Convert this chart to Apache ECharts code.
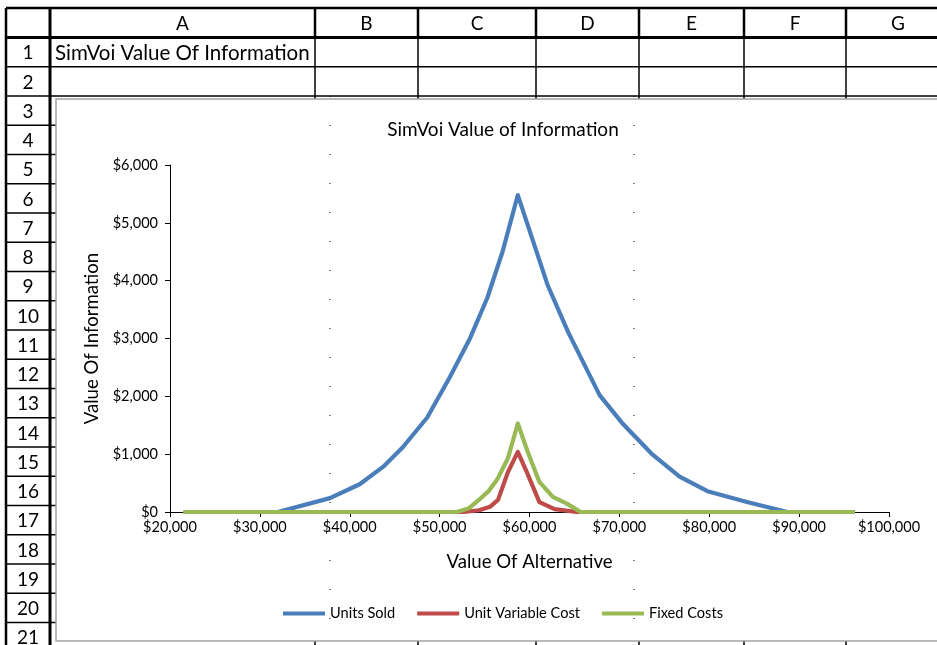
<!DOCTYPE html>
<html>
<head>
<meta charset="utf-8">
<script src="https://cdn.jsdelivr.net/npm/echarts@6/dist/echarts.min.js"></script>
<style>
  html, body { margin: 0; padding: 0; background: #ffffff; }
  #main { width: 937px; height: 645px; }
</style>
</head>
<body>
<div id="main"></div>
<script>
// Worksheet headings and the cell text
const columnLetters = ['A', 'B', 'C', 'D', 'E', 'F', 'G'];
const rowNumbers = ['1','2','3','4','5','6','7','8','9','10','11','12','13','14','15','16','17','18','19','20','21'];
const cellA1Text = 'SimVoi Value Of Information';

// Chart texts
const chartTitle = 'SimVoi Value of Information';
const xAxisTitle = 'Value Of Alternative';
const yAxisTitle = 'Value Of Information';
const seriesNames = ['Units Sold', 'Unit Variable Cost', 'Fixed Costs'];

// Axis ranges
const xMin = 20000, xMax = 100000, xStep = 10000;
const yMin = 0, yMax = 6000, yStep = 1000;

// Units Sold: value of alternative vs value of information
const unitsSoldX = [21700, 32000, 37800, 41100, 43700, 45900, 48600, 51100, 53400, 55300, 57000, 58700,
                    62000, 64300, 67800, 70300, 73700, 76700, 79800, 84300, 88700, 96000];
const unitsSoldY = [0, 0, 240, 480, 780, 1120, 1630, 2320, 3010, 3700, 4500, 5480,
                    3930, 3110, 2020, 1540, 990, 610, 360, 170, 0, 0];

// Unit Variable Cost
const unitCostX = [21700, 52600, 54400, 55600, 56500, 57600, 58700, 59700, 61100, 62800, 65300, 96000];
const unitCostY = [0, 0, 30, 90, 210, 690, 1040, 690, 170, 50, 0, 0];

// Fixed Costs
const fixedCostX = [21700, 51900, 53200, 54300, 55500, 56400, 57600, 58700, 59800, 61100, 62600, 64200, 65700, 96000];
const fixedCostY = [0, 0, 60, 200, 370, 560, 930, 1530, 1040, 520, 260, 140, 0, 0];

const FONT = 'Lato, "Noto Sans", sans-serif';

function toPairs(xs, ys) { return xs.map((x, i) => [x, ys[i]]); }
function money(v) { return '$' + String(Math.round(v)).replace(/\B(?=(\d{3})+(?!\d))/g, ','); }

// ---- worksheet grid drawn behind the embedded chart ----
const colEdges = [50, 315, 418, 536, 639, 744, 846, 950];
const headerTop = 8, headerBottom = 37.5, rowH = 29.25;
const sheet = [];

function hLine(y, x1, x2, w, z) {
  sheet.push({ type: 'line', silent: true, z: z, shape: { x1: x1, y1: y, x2: x2, y2: y },
               style: { stroke: '#000', lineWidth: w } });
}
function vLine(x, y1, y2, w, z) {
  sheet.push({ type: 'line', silent: true, z: z, shape: { x1: x, y1: y1, x2: x, y2: y2 },
               style: { stroke: '#000', lineWidth: w } });
}

// row separators
rowNumbers.forEach((r, i) => {
  const y = headerBottom + rowH * (i + 1);
  hLine(y, 6, 950, 1.5, -20);
});
// column separators
colEdges.slice(1, -1).forEach(x => {
  vLine(x, headerTop, 37, 2.5, -20);
  vLine(x, 37, 650, 1.5, -20);
});
// frame of the headings
hLine(headerTop, 6, 950, 2.5, -19);
hLine(headerBottom, 6, 950, 3, -19);
vLine(6, headerTop, 650, 2.5, -19);
vLine(50, headerTop, 650, 3, -19);

// column letters
columnLetters.forEach((c, i) => {
  sheet.push({ type: 'text', silent: true, z: -18,
    style: { text: c, x: (colEdges[i] + colEdges[i + 1]) / 2, y: (headerTop + headerBottom) / 2 + 1,
             align: 'center', verticalAlign: 'middle', font: '19px ' + FONT, fill: '#000' } });
});
// row numbers
rowNumbers.forEach((r, i) => {
  sheet.push({ type: 'text', silent: true, z: -18,
    style: { text: r, x: 28, y: headerBottom + rowH * i + rowH / 2 + 1,
             align: 'center', verticalAlign: 'middle', font: '19px ' + FONT, fill: '#000' } });
});
// A1 text
sheet.push({ type: 'text', silent: true, z: -18,
  style: { text: cellA1Text, x: 55, y: headerBottom + rowH / 2 + 1,
           align: 'left', verticalAlign: 'middle', font: '20.5px ' + FONT, fill: '#000' } });

// embedded chart area
sheet.push({ type: 'rect', silent: true, z: -5,
  shape: { x: 56, y: 99, width: 920, height: 542 },
  style: { fill: '#ffffff', stroke: '#a3a3a3', lineWidth: 1.5 } });

// page-break dots on top of everything
[330, 634].forEach(x => {
  for (let k = -4; k <= 14; k++) {
    sheet.push({ type: 'rect', silent: true, z: 100,
      shape: { x: x - 0.5, y: 212 + 29 * k, width: 1, height: 1 },
      style: { fill: '#000' } });
  }
});

const chart = echarts.init(document.getElementById('main'), null, { renderer: 'canvas' });

chart.setOption({
  animation: false,
  backgroundColor: '#ffffff',
  title: {
    text: chartTitle,
    left: 498,
    top: 115,
    textAlign: 'center',
    textStyle: { fontFamily: FONT, fontSize: 19, fontWeight: 'normal', color: '#000' }
  },
  legend: {
    left: 283,
    top: 606,
    padding: 0,
    icon: 'rect',
    itemWidth: 42,
    itemHeight: 4,
    itemGap: 22,
    textStyle: { fontFamily: FONT, fontSize: 14.6, color: '#000' },
    data: seriesNames
  },
  grid: { left: 170, right: 48, top: 165, bottom: 133, containLabel: false },
  xAxis: {
    type: 'value',
    min: xMin, max: xMax, interval: xStep,
    name: xAxisTitle,
    nameLocation: 'middle',
    nameGap: 40,
    nameTextStyle: { fontFamily: FONT, fontSize: 18.6, color: '#000' },
    axisLine: { show: true, onZero: false, lineStyle: { color: '#000', width: 1 } },
    axisTick: { show: true, inside: false, length: 5, lineStyle: { color: '#000' } },
    axisLabel: { formatter: money, margin: 8, fontFamily: FONT, fontSize: 14.5, color: '#000' },
    splitLine: { show: false }
  },
  yAxis: {
    type: 'value',
    min: yMin, max: yMax, interval: yStep,
    name: yAxisTitle,
    nameLocation: 'middle',
    nameGap: 68,
    nameTextStyle: { fontFamily: FONT, fontSize: 18.6, color: '#000' },
    axisLine: { show: true, lineStyle: { color: '#000', width: 1 } },
    axisTick: { show: true, inside: false, length: 5, lineStyle: { color: '#000' } },
    axisLabel: { formatter: money, margin: 12, fontFamily: FONT, fontSize: 14.5, color: '#000' },
    splitLine: { show: false }
  },
  series: [
    { name: seriesNames[0], type: 'line', data: toPairs(unitsSoldX, unitsSoldY),
      showSymbol: false, smooth: false, z: 3,
      lineStyle: { width: 4.2, color: '#4A7EBB', cap: 'round', join: 'round' }, itemStyle: { color: '#4A7EBB' } },
    { name: seriesNames[1], type: 'line', data: toPairs(unitCostX, unitCostY),
      showSymbol: false, smooth: false, z: 4,
      lineStyle: { width: 4.2, color: '#BE4B48', cap: 'round', join: 'round' }, itemStyle: { color: '#BE4B48' } },
    { name: seriesNames[2], type: 'line', data: toPairs(fixedCostX, fixedCostY),
      showSymbol: false, smooth: false, z: 5,
      lineStyle: { width: 4.2, color: '#98B954', cap: 'round', join: 'round' }, itemStyle: { color: '#98B954' } }
  ],
  graphic: { elements: sheet }
});
</script>
</body>
</html>
